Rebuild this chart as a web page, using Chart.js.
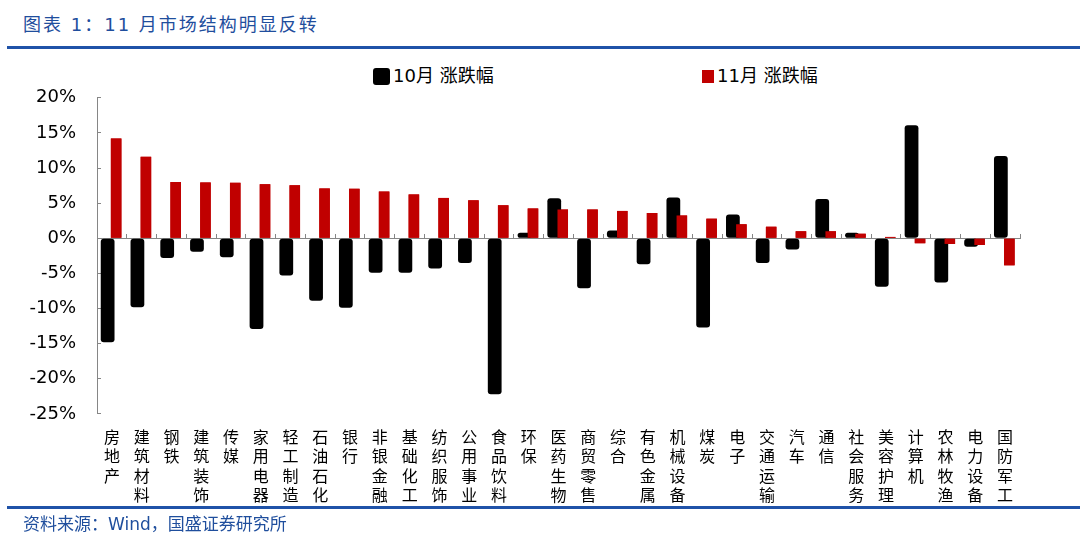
<!DOCTYPE html>
<html>
<head>
<meta charset="utf-8">
<script src="https://cdn.jsdelivr.net/npm/chart.js@4/dist/chart.umd.min.js"></script>
<style>
  html, body { margin:0; padding:0; background:#fff; }
  body { width:1080px; height:547px; position:relative; overflow:hidden; }
  .title { position:absolute; left:23px; top:12px; font-family:"DejaVu Sans","Noto Sans CJK SC",sans-serif; font-size:18px; color:#1F4E9D; letter-spacing:2px; line-height:26px; white-space:nowrap; }
  .rule { position:absolute; left:7px; right:0; height:3px; background:#1F52A8; }
  .source { position:absolute; left:23px; top:511px; font-family:"DejaVu Sans","Noto Sans CJK SC",sans-serif; font-size:17px; color:#1F4E9D; line-height:26px; white-space:nowrap; }
  .leg { position:absolute; font-family:"DejaVu Sans","Noto Sans CJK SC",sans-serif; font-size:18px; color:#000; line-height:22px; white-space:nowrap; }
  .box { position:absolute; }
  #wrap { position:absolute; left:0; top:62px; width:1080px; height:458px; }
</style>
</head>
<body>
<div class="title">图表 1：11 月市场结构明显反转</div>
<div class="rule" style="top:46px"></div>

<div class="box" id="box0" style="left:373px;top:68px;width:13px;height:13px;border:2px solid #000;border-radius:3px;"></div>
<div class="leg" id="leg0" style="left:393px;top:65px;"></div>
<div class="box" id="box1" style="left:702px;top:70px;width:12px;height:13px;"></div>
<div class="leg" id="leg1" style="left:717px;top:65px;"></div>

<div id="wrap"><canvas id="c" width="1080" height="458"></canvas></div>

<div class="rule" style="top:506px"></div>
<div class="source">资料来源：Wind，国盛证券研究所</div>

<script>
const categories = [
  ['房','地','产'], ['建','筑','材','料'], ['钢','铁'], ['建','筑','装','饰'], ['传','媒'],
  ['家','用','电','器'], ['轻','工','制','造'], ['石','油','石','化'], ['银','行'], ['非','银','金','融'],
  ['基','础','化','工'], ['纺','织','服','饰'], ['公','用','事','业'], ['食','品','饮','料'], ['环','保'],
  ['医','药','生','物'], ['商','贸','零','售'], ['综','合'], ['有','色','金','属'], ['机','械','设','备'],
  ['煤','炭'], ['电','子'], ['交','通','运','输'], ['汽','车'], ['通','信'],
  ['社','会','服','务'], ['美','容','护','理'], ['计','算','机'], ['农','林','牧','渔'], ['电','力','设','备'],
  ['国','防','军','工']
];
const seriesNames = ['10月 涨跌幅', '11月 涨跌幅'];
const octChange = [-14.8, -9.8, -2.8, -1.9, -2.7, -12.9, -5.3, -8.9, -9.9, -4.9,
                   -4.9, -4.3, -3.5, -22.2, 0.8, 5.7, -7.1, 1.1, -3.7, 5.8,
                   -12.7, 3.4, -3.5, -1.6, 5.6, 0.8, -6.9, 16.1, -6.3, -1.2, 11.7];
const novChange = [14.2, 11.6, 8.0, 7.95, 7.9, 7.7, 7.55, 7.1, 7.05, 6.65,
                   6.25, 5.75, 5.4, 4.7, 4.25, 4.1, 4.1, 3.9, 3.6, 3.25,
                   2.8, 2.0, 1.65, 1.0, 1.0, 0.65, 0.2, -0.7, -0.8, -0.95, -3.85];
const yTicks = { min: -25, max: 20, step: 5 };
const colors = ['#000000', '#C00000'];

document.getElementById('leg0').textContent = seriesNames[0];
document.getElementById('leg1').textContent = seriesNames[1];
document.getElementById('box0').style.background = colors[0];
document.getElementById('box1').style.background = colors[1];

const redOnTop = {
  id: 'redOnTop',
  afterDatasetsDraw(chart) {
    const meta = chart.getDatasetMeta(1);
    if (!meta.hidden) meta.controller.draw();
  }
};

new Chart(document.getElementById('c'), {
  type: 'bar',
  data: {
    labels: categories,
    datasets: [
      { label: seriesNames[0], data: octChange, backgroundColor: colors[0], borderWidth: 0,
        borderRadius: 3, borderSkipped: false, barPercentage: 1.62, categoryPercentage: 0.571 },
      { label: seriesNames[1], data: novChange, backgroundColor: colors[1], borderWidth: 0,
        borderRadius: 0, barPercentage: 1.24, categoryPercentage: 0.571 }
    ]
  },
  options: {
    responsive: false,
    animation: false,
    devicePixelRatio: 1,
    layout: { padding: { left: 0, right: 60, top: 15, bottom: 2 } },
    plugins: { legend: { display: false }, tooltip: { enabled: false } },
    scales: {
      x: {
        offset: true,
        grid: { display: false, drawTicks: false, offset: true },
        border: { display: false },
        ticks: {
          autoSkip: false, maxRotation: 0, minRotation: 0, padding: 13,
          font: { family: 'Noto Sans CJK SC', size: 16, lineHeight: 1.22 }, color: '#000'
        }
      },
      x2: {
        type: 'category',
        position: { y: 0 },
        offset: true,
        grid: { offset: true, drawOnChartArea: false, drawTicks: true, tickLength: -5, color: '#868686' },
        border: { color: '#868686', width: 1 },
        ticks: { display: false }
      },
      y: {
        min: yTicks.min, max: yTicks.max,
        ticks: {
          stepSize: yTicks.step, padding: 25,
          callback: v => v + '%',
          font: { family: 'DejaVu Sans', size: 18 }, color: '#000'
        },
        grid: { drawOnChartArea: false, drawTicks: true, tickLength: -4, color: '#868686' },
        border: { color: '#868686', width: 1 },
        afterFit(s) { s.width = 97; }
      }
    }
  },
  plugins: [redOnTop]
});
</script>
</body>
</html>
